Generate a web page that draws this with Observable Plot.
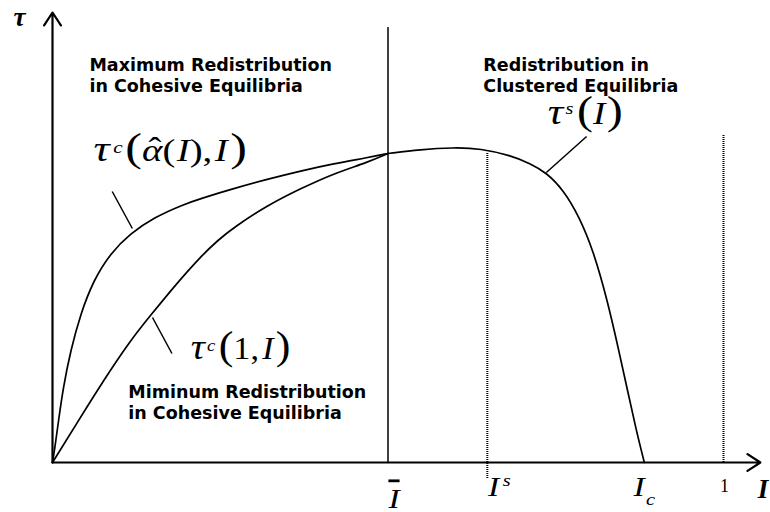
<!DOCTYPE html>
<html>
<head>
<meta charset="utf-8">
<script src="https://cdn.jsdelivr.net/npm/d3@7"></script>
<script src="https://cdn.jsdelivr.net/npm/@observablehq/plot@0.6"></script>
<style>
  html, body { margin: 0; padding: 0; background: #fff; }
  #chart svg { display: block; }
</style>
</head>
<body>
<div id="chart"></div>
<script>
// ---------- data (schematic units: I on x, tau on y) ----------
// maximum redistribution in cohesive equilibria: tau^c(alpha-hat(I), I)
const maxCohesiveI   = [0, 0.003, 0.009, 0.016, 0.027, 0.042, 0.061, 0.086, 0.116, 0.151, 0.195, 0.221, 0.270, 0.320, 0.370, 0.419, 0.469, 0.5];
const maxCohesiveTau = [0, 0.03, 0.105, 0.1875, 0.28, 0.3725, 0.455, 0.5225, 0.5725, 0.6125, 0.645, 0.66, 0.685, 0.708, 0.729, 0.747, 0.762, 0.7725];
// minimum redistribution in cohesive equilibria: tau^c(1, I)
const minCohesiveI   = [0, 0.036, 0.076, 0.116, 0.146, 0.185, 0.221, 0.246, 0.270, 0.320, 0.370, 0.419, 0.469, 0.5];
const minCohesiveTau = [0, 0.0975, 0.205, 0.305, 0.3675, 0.4475, 0.515, 0.555, 0.5875, 0.6425, 0.685, 0.7225, 0.75, 0.7725];
// redistribution in clustered equilibria: tau^s(I)
const clusteredI   = [0.5, 0.548, 0.598, 0.638, 0.683, 0.712, 0.736, 0.762, 0.784, 0.806, 0.827, 0.844, 0.857, 0.870, 0.882];
const clusteredTau = [0.7725, 0.7825, 0.7875, 0.785, 0.7675, 0.7475, 0.725, 0.68, 0.6175, 0.53, 0.405, 0.28, 0.18, 0.08, 0];

// key thresholds on the I axis (labels typeset below)
const tickKeys   = ["Ī", "Is", "Ic", "1"];
const tickValues = [0.5, 0.648, 0.882, 1];
const tickTau    = [-0.1125, -0.0825, -0.0825, -0.0725];

// vertical guide lines (I-bar solid, I^s and 1 dotted)
const guideSolidI   = [0.5];
const guideSolidTop = [1.0875];
const guideDotI      = [0.648, 1];
const guideDotTop    = [0.7725, 0.8175];
const guideDotBottom = [-0.04, 0];

// axes extent
const axisEndI = 1.055;
const axisEndTau = 1.125;

// region titles
const regionTitles = ["Maximum Redistribution\nin Cohesive Equilibria", "Redistribution in\nClustered Equilibria", "Miminum Redistribution\nin Cohesive Equilibria"];
const regionI   = [0.055, 0.642, 0.113];
const regionTau = [0.9275, 0.9275, 0.11];

// curve labels and their leader lines
const curveKeys = ["τc(α̂(I),I)", "τc(1,I)", "τs(I)"];
const curveLabelI   = [0.061, 0.206, 0.738];
const curveLabelTau = [0.755, 0.26, 0.8475];
const leaderI1 = [0.089, 0.149, 0.796], leaderTau1 = [0.6775, 0.3625, 0.815];
const leaderI2 = [0.119, 0.178, 0.736], leaderTau2 = [0.585, 0.2725, 0.725];

// axis titles
const axisTitles = ["τ", "I"];
const axisTitleI = [-0.058, 1.051];
const axisTitleTau = [1.0925, -0.0875];

// ---------- typesetting of math labels: [text, size, italic, raise, dx, decoration] ----------
const richSpecs = {
  "τc(α̂(I),I)": {scale: 1.25, parts: [["τ",36,1],["c",17,1,8,3],["(",40,0,0,2],["α",31,1],["ˆ",31,0,2,-11],["(",31,0,0,1],["I",31,1,0,1],[")",31,0],[",",31,0],["I",31,1,0,2],[")",40,0,0,2]]},
  "τc(1,I)":     {scale: 1.1,  parts: [["τ",36,1],["c",17,1,8,2],["(",40,0,0,3],["1",31,0],[",",31,0],["I",31,1,0,3],[")",40,0,0,2]]},
  "τs(I)":       {scale: 1.2,  parts: [["τ",36,1],["s",17,1,10,2],["(",40,0,0,3],["I",31,1],[")",40,0,0,1]]},
  "Ī":  {scale: 1.2, parts: [["I",28,1,0,5,"overline"]]},
  "Is": {scale: 1.2, parts: [["I",28,1,0,10],["s",17,1,10,3]]},
  "Ic": {scale: 1.2, parts: [["I",28,1,0,0],["c",17,1,-9,1]]},
  "1":  {scale: 1,   parts: [["1",18,0,0,1]]}
};

const zip = (obj) => { const keys = Object.keys(obj); return obj[keys[0]].map((_, i) => Object.fromEntries(keys.map(k => [k, obj[k][i]]))); };

const maxCohesive = zip({I: maxCohesiveI, tau: maxCohesiveTau});
const minCohesive = zip({I: minCohesiveI, tau: minCohesiveTau});
const clustered   = zip({I: clusteredI, tau: clusteredTau});
const ticks   = zip({key: tickKeys, I: tickValues, tau: tickTau});
const solid   = zip({I: guideSolidI, top: guideSolidTop});
const dotted  = zip({I: guideDotI, top: guideDotTop, bottom: guideDotBottom});
const regions = zip({text: regionTitles, I: regionI, tau: regionTau});
const curveLabels = zip({text: curveKeys, I: curveLabelI, tau: curveLabelTau});
const leaders = zip({x1: leaderI1, y1: leaderTau1, x2: leaderI2, y2: leaderTau2});
const axes = [{x1: 0, y1: 0, x2: axisEndI, y2: 0}, {x1: 0, y1: 0, x2: 0, y2: axisEndTau}];
const titles = zip({text: axisTitles, I: axisTitleI, tau: axisTitleTau});

const serif = "'Liberation Serif', 'Times New Roman', serif";

const chart = Plot.plot({
  width: 770,
  height: 512,
  margin: 0,
  x: {domain: [0, 1], range: [52, 723], axis: null},
  y: {domain: [0, 1], range: [462, 62], axis: null},
  style: {background: "#fff", fontFamily: serif, overflow: "visible"},
  marks: [
    Plot.ruleX(solid, {x: "I", y1: 0, y2: "top", stroke: "#000", strokeWidth: 1.5}),
    Plot.ruleX(dotted, {x: "I", y1: "bottom", y2: "top", stroke: "#000", strokeWidth: 2, strokeDasharray: "1,1"}),
    Plot.line(maxCohesive, {x: "I", y: "tau", curve: "basis", stroke: "#000", strokeWidth: 1.7}),
    Plot.line(minCohesive, {x: "I", y: "tau", curve: "basis", stroke: "#000", strokeWidth: 1.7}),
    Plot.line(clustered, {x: "I", y: "tau", curve: "basis", stroke: "#000", strokeWidth: 1.7}),
    Plot.link(leaders, {x1: "x1", y1: "y1", x2: "x2", y2: "y2", stroke: "#000", strokeWidth: 1.5}),
    Plot.arrow(axes, {x1: "x1", y1: "y1", x2: "x2", y2: "y2", stroke: "#000", strokeWidth: 2.2, headAngle: 66, headLength: 10.5}),
    Plot.text(regions, {x: "I", y: "tau", text: "text", textAnchor: "start", lineAnchor: "bottom", lineHeight: 1.2,
      fontFamily: "'DejaVu Sans', Verdana, sans-serif", fontWeight: "bold", fontSize: 17.5, fill: "#000"}),
    Plot.text(curveLabels, {x: "I", y: "tau", text: "text", textAnchor: "start", lineAnchor: "bottom", fontSize: 30, fill: "#000"}),
    Plot.text(ticks, {x: "I", y: "tau", text: "key", textAnchor: "middle", lineAnchor: "bottom", fontSize: 18, fill: "#000"}),
    Plot.text(titles, {x: "I", y: "tau", text: "text", textAnchor: "start", lineAnchor: "bottom", fontSize: 27, fontStyle: "italic", fontWeight: "bold", fill: "#000"})
  ]
});

// typeset the plain label strings (super/subscripts, sizes, italics, hats, bars)
d3.select(chart).selectAll("text").each(function () {
  const spec = richSpecs[this.textContent];
  if (!spec) return;
  const t = d3.select(this);
  t.text(null).attr("y", null);
  if (spec.scale !== 1) {
    const tr = t.attr("transform") || "";
    t.attr("transform", `${tr} scale(${spec.scale},1)`);
  }
  let prev = 0;
  for (const [s, size, italic, raise = 0, dx = 0, deco] of spec.parts) {
    const ts = t.append("tspan").text(s)
      .attr("font-size", size)
      .attr("font-style", italic ? "italic" : "normal")
      .attr("dy", prev - raise)
      .attr("dx", dx);
    if (deco) ts.style("text-decoration", deco);
    prev = raise;
  }
});

document.getElementById("chart").append(chart);
</script>
</body>
</html>
